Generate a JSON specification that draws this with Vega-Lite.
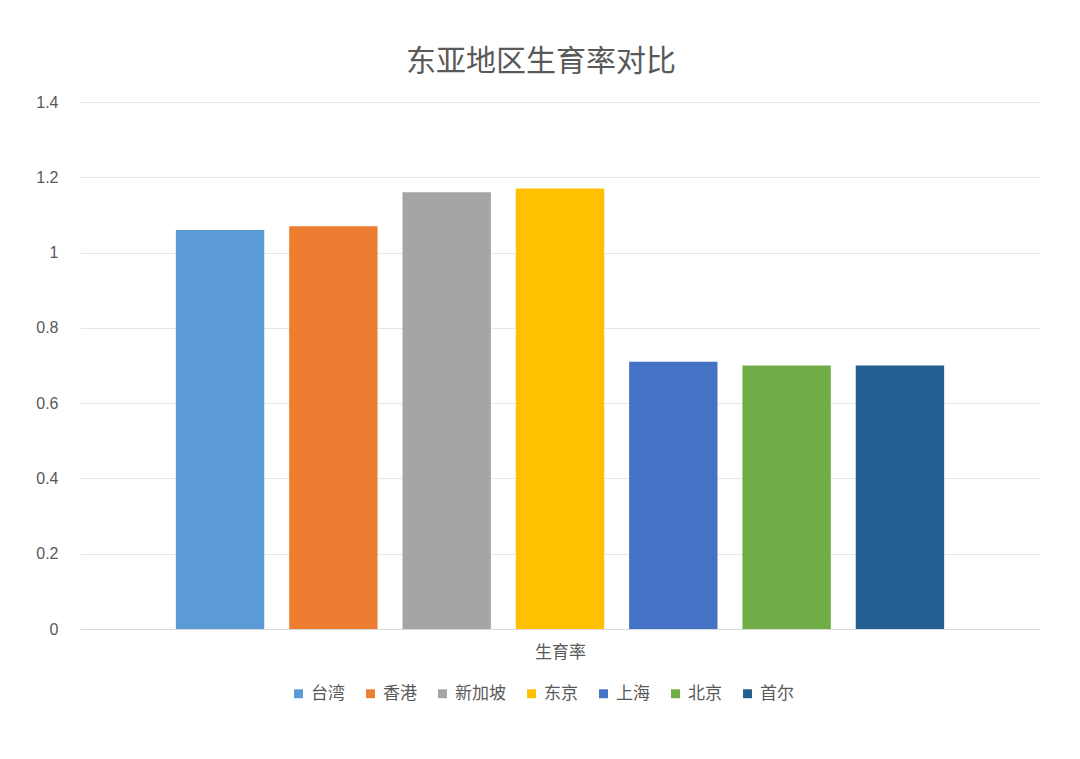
{
  "$schema": "https://vega.github.io/schema/vega-lite/v6.json",
  "autosize": {"type": "none"},
  "padding": {"left": 80, "top": 102, "right": 40, "bottom": 130},
  "width": 960,
  "height": 527,
  "background": "#ffffff",
  "title": {
    "text": "东亚地区生育率对比",
    "font": "Noto Sans CJK SC",
    "fontSize": 30,
    "fontWeight": "normal",
    "color": "#595959",
    "anchor": "middle",
    "dx": -19,
    "offset": 17
  },
  "data": {
    "values": [
      {"城市": "台湾", "类别": "生育率", "生育率": 1.06},
      {"城市": "香港", "类别": "生育率", "生育率": 1.07},
      {"城市": "新加坡", "类别": "生育率", "生育率": 1.16},
      {"城市": "东京", "类别": "生育率", "生育率": 1.17},
      {"城市": "上海", "类别": "生育率", "生育率": 0.71},
      {"城市": "北京", "类别": "生育率", "生育率": 0.70},
      {"城市": "首尔", "类别": "生育率", "生育率": 0.70}
    ]
  },
  "mark": {"type": "bar"},
  "encoding": {
    "x": {
      "field": "城市",
      "type": "nominal",
      "sort": ["台湾", "香港", "新加坡", "东京", "上海", "北京", "首尔"],
      "scale": {"paddingInner": 0.22, "paddingOuter": 0.846},
      "axis": {
        "title": "生育率",
        "labels": false,
        "ticks": false,
        "domain": true,
        "domainColor": "#d9d9d9",
        "titleFont": "Noto Sans CJK SC",
        "titleFontSize": 17,
        "titleFontWeight": "normal",
        "titleColor": "#595959",
        "titlePadding": 15
      }
    },
    "y": {
      "field": "生育率",
      "type": "quantitative",
      "scale": {"domain": [0, 1.4]},
      "axis": {
        "title": null,
        "values": [0, 0.2, 0.4, 0.6, 0.8, 1, 1.2, 1.4],
        "format": "~g",
        "domain": false,
        "ticks": false,
        "grid": true,
        "gridColor": "#e6e6e6",
        "labelFont": "Liberation Sans",
        "labelFontSize": 16,
        "labelColor": "#595959",
        "labelPadding": 22
      }
    },
    "color": {
      "field": "城市",
      "type": "nominal",
      "sort": ["台湾", "香港", "新加坡", "东京", "上海", "北京", "首尔"],
      "scale": {
        "domain": ["台湾", "香港", "新加坡", "东京", "上海", "北京", "首尔"],
        "range": ["#5B9BD5", "#ED7D31", "#A5A5A5", "#FFC000", "#4472C4", "#70AD47", "#255E91"]
      },
      "legend": {
        "title": null,
        "orient": "none",
        "legendX": 210,
        "legendY": 583,
        "direction": "horizontal",
        "symbolType": "square",
        "symbolSize": 80,
        "symbolStrokeWidth": 0,
        "labelFont": "Noto Sans CJK SC",
        "labelFontSize": 17,
        "labelColor": "#595959",
        "columnPadding": 17,
        "labelOffset": 4
      }
    }
  },
  "config": {
    "view": {"stroke": null}
  }
}
